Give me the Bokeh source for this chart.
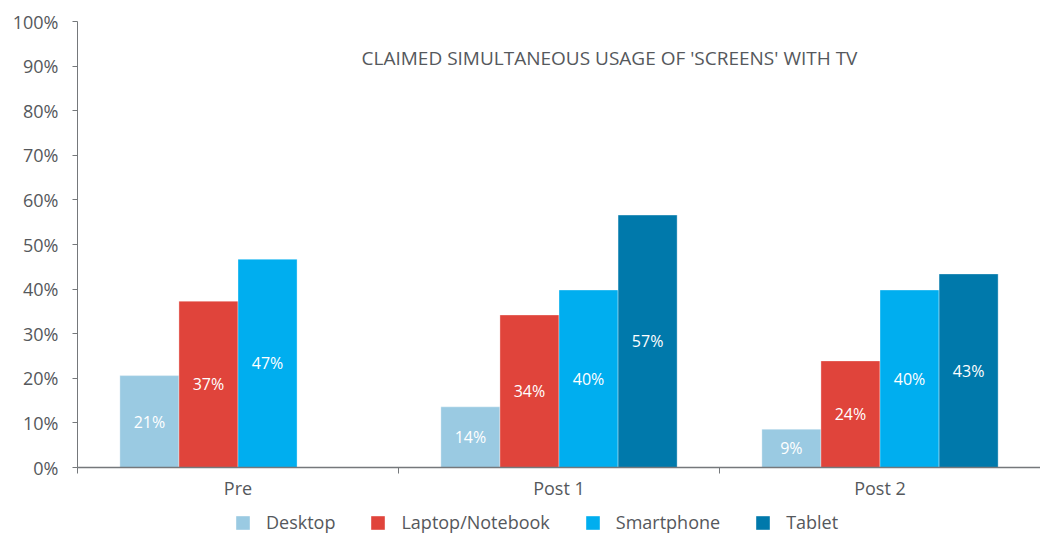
import math
from bokeh.plotting import figure
from bokeh.layouts import column
from bokeh.models import (ColumnDataSource, Range1d, FixedTicker, Legend, LegendItem, Label)
from bokeh.core.properties import value
from bokeh.embed import file_html
from bokeh.resources import INLINE

# ---- data ----
categories = ["Pre", "Post 1", "Post 2"]
series = ["Desktop", "Laptop/Notebook", "Smartphone", "Tablet"]
desktop = [20.6, 13.6, 8.6]
laptop = [37.3, 34.2, 23.9]
smartphone = [46.7, 39.8, 39.8]
tablet = [float("nan"), 56.6, 43.4]
colors = ["#9ACAE2", "#E0443B", "#00AEEF", "#0079AB"]
title_text = "CLAIMED SIMULTANEOUS USAGE OF 'SCREENS' WITH TV"
y_ticks = list(range(0, 101, 10))

FONT = "Open Sans"
TEXT = "#55585C"
AXIS = "#75787B"

p = figure(width=1040, height=510, output_backend="svg", toolbar_location=None,
           x_range=Range1d(0, len(categories)), y_range=Range1d(0, 100),
           min_border_left=77, min_border_right=0, min_border_top=21, min_border_bottom=43)
p.outline_line_color = None
p.grid.grid_line_color = None

bar_w = 0.184
all_vals = [desktop, laptop, smartphone, tablet]
lab_x, lab_y, lab_t = [], [], []
for j, (name, vals, col) in enumerate(zip(series, all_vals, colors)):
    xs = [i + 0.5 + (j - 1.5) * bar_w for i in range(len(categories))]
    src = ColumnDataSource(dict(x=xs, top=vals))
    p.vbar(x="x", top="top", width=bar_w, source=src, fill_color=col,
           line_color="white", line_alpha=0.35, line_width=1)
    for x, v in zip(xs, vals):
        if not math.isnan(v):
            lab_x.append(x)
            lab_y.append(v / 2)
            lab_t.append(f"{round(v)}%")

p.text(x=lab_x, y=lab_y, text=lab_t, text_color="white", text_font=value(FONT),
       text_font_size="16px", text_align="center", text_baseline="middle")

# y axis
ya = p.yaxis[0]
ya.ticker = FixedTicker(ticks=y_ticks)
ya.major_label_overrides = {t: f"{t}%" for t in y_ticks}
ya.major_label_text_font = FONT
ya.major_label_text_font_size = "18px"
ya.major_label_text_color = TEXT
ya.major_label_standoff = 14
ya.axis_line_color = AXIS
ya.major_tick_line_color = AXIS
ya.major_tick_out = 5
ya.major_tick_in = 0
ya.minor_tick_line_color = None

# x axis
xa = p.xaxis[0]
centers = [i + 0.5 for i in range(len(categories))]
xa.ticker = FixedTicker(ticks=centers, minor_ticks=list(range(len(categories))))
xa.major_label_overrides = {c: n for c, n in zip(centers, categories)}
xa.major_label_text_font = FONT
xa.major_label_text_font_size = "18px"
xa.major_label_text_color = TEXT
xa.major_label_standoff = 2
xa.axis_line_color = AXIS
xa.axis_line_width = 1.5
xa.major_tick_line_color = None
xa.major_tick_out = 6
xa.minor_tick_line_color = AXIS
xa.minor_tick_out = 6
xa.minor_tick_in = 0

# title inside plot
p.add_layout(Label(x=532, y=91.9, x_units="screen", y_units="data", text=title_text,
                   text_font=FONT, text_font_size="19px", text_color=TEXT,
                   text_align="center", text_baseline="middle"))

# legend strip
lf = figure(width=1040, height=24, output_backend="svg", toolbar_location=None,
            x_range=Range1d(0, 1), y_range=Range1d(0, 1),
            min_border_left=0, min_border_right=0, min_border_top=0, min_border_bottom=0)
lf.axis.visible = False
lf.grid.grid_line_color = None
lf.outline_line_color = None
items = []
for name, col in zip(series, colors):
    r = lf.rect(x=[-10], y=[-10], width=0.1, height=0.1, fill_color=col, line_color=None)
    items.append(LegendItem(label=name, renderers=[r]))
legend = Legend(items=items, orientation="horizontal", location=(157, 0),
                padding=0, margin=0, spacing=34, glyph_width=17, glyph_height=17,
                label_standoff=15, label_text_font=FONT, label_text_font_size="18px",
                label_text_color=TEXT, border_line_color=None, background_fill_alpha=0)
lf.add_layout(legend, "center")

layout = column(p, lf, spacing=0)
open("out.html", "w").write(file_html(layout, INLINE))
